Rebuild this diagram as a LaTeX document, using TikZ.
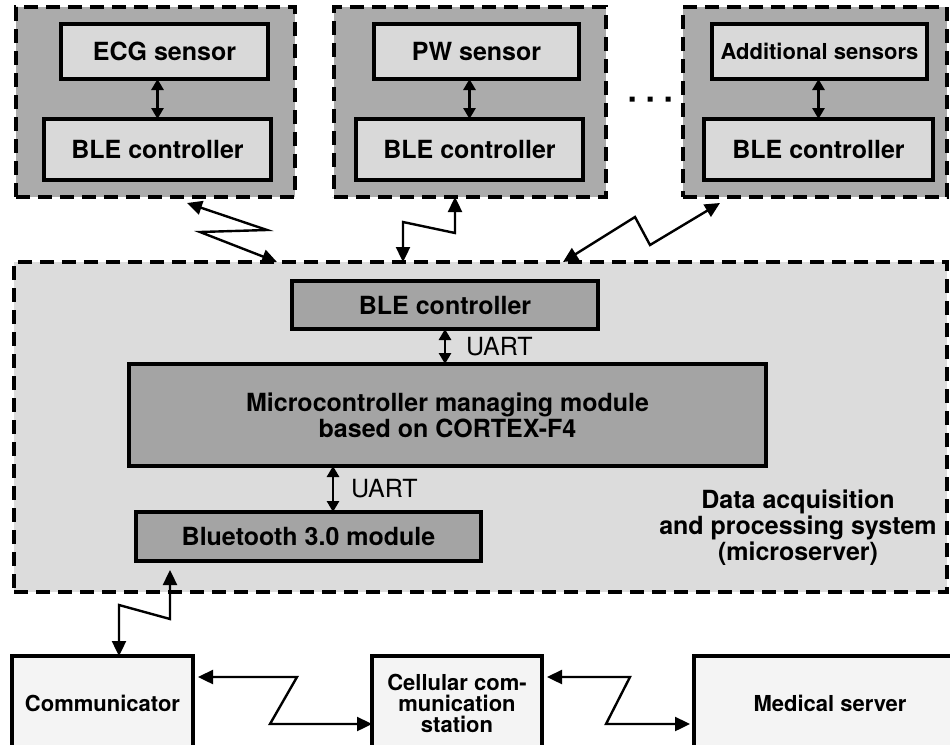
\documentclass[tikz,border=0pt]{standalone}
\usepackage{fontspec}
\setmainfont{TeX Gyre Heros}
\usetikzlibrary{arrows.meta, positioning}

\definecolor{grpgray}{HTML}{ABABAB}
\definecolor{boxlight}{HTML}{D9D9D9}
\definecolor{sysgray}{HTML}{DCDCDC}
\definecolor{unitgray}{HTML}{A4A4A4}
\definecolor{termgray}{HTML}{F4F4F4}

\begin{document}
\begin{tikzpicture}[x=1pt,y=-1pt,>={Triangle[length=15pt,width=14pt]},
	every node/.style={font=\fontsize{25}{26}\selectfont\bfseries, inner sep=0pt, outer sep=0pt},
	group/.style={draw, line width=3.5pt, dash pattern=on 14pt off 8pt, fill=grpgray},
	sensorbox/.style={draw, line width=3.5pt, fill=boxlight},
	unit/.style={draw, line width=3.5pt, fill=unitgray, align=center},
	terminal/.style={draw, line width=3.5pt, fill=termgray, align=center, font=\fontsize{22}{21}\selectfont\bfseries},
	wire/.style={<->, line width=2.8pt, >={Triangle[length=11pt,width=12pt]}},
	radio/.style={<->, line width=2.4pt}]

	\useasboundingbox (0,0) rectangle (950,744);

	% sensor groups
	\node (g1) [group, minimum width=279pt, minimum height=190pt] at (155.5,102) {};
	\node (ecg) [sensorbox, minimum width=207pt, minimum height=55pt] at (164.5,51.5) {ECG sensor};
	\node (ble1) [sensorbox, minimum width=227pt, minimum height=61pt] at (157.5,149.5) {BLE controller};

	\node (g2) [group, minimum width=272pt, minimum height=190pt] at (470,102) {};
	\node (pw) [sensorbox, minimum width=205pt, minimum height=55pt] at (476.5,51.5) {PW sensor};
	\node (ble2) [sensorbox, minimum width=227pt, minimum height=61pt] at (469.5,149.5) {BLE controller};

	\node (g3) [group, minimum width=264pt, minimum height=190pt] at (815,102) {};
	\node (add) [sensorbox, minimum width=215pt, minimum height=55pt, font=\fontsize{22}{24}\selectfont\bfseries] at (819.5,51.5) {Additional sensors};
	\node (ble3) [sensorbox, minimum width=229pt, minimum height=61pt] at (818.5,149.5) {BLE controller};

	\fill (629.5,96.5) rectangle ++(5,5) (647.5,96.5) rectangle ++(5,5) (665.5,96.5) rectangle ++(5,5);

	% microserver
	\node (sys) [group, fill=sysgray, minimum width=933pt, minimum height=330pt] at (480.5,427) {};
	\node (bleM) [unit, minimum width=306pt, minimum height=48pt] at (445,305) {BLE controller};
	\node (mcu) [unit, minimum width=637pt, minimum height=102pt] at (447.5,415) {Microcontroller managing module\\based on CORTEX-F4};
	\node (bt) [unit, minimum width=345pt, minimum height=49pt] at (308.5,536.5) {Bluetooth 3.0 module};
	\node (syslabel) [align=center] at (798,528) {Data acquisition\\and processing system\\(microserver)};

	% terminals
	\node (comm) [terminal, minimum width=181pt, minimum height=94pt] at (102.5,703) {Communicator};
	\node (cell) [terminal, minimum width=170pt, minimum height=94pt] at (457,703) {Cellular com-\\munication\\station};
	\node (med) [terminal, minimum width=261pt, minimum height=94pt] at (824.5,703) {\hspace*{11pt}Medical server};

	\draw[wire] (ecg.south -| ble1.north) -- (ble1.north);
	\draw[wire] (pw.south -| ble2.north) -- (ble2.north);
	\draw[wire] (add.south -| ble3.north) -- (ble3.north);

	\draw[wire] (bleM.south) -- (bleM.south |- mcu.north)
		node[midway, right=21pt, font=\fontsize{25}{26}\selectfont] {UART};
	\draw[wire] ([xshift=24.5pt]bt.north |- mcu.south) -- ([xshift=24.5pt]bt.north)
		node[midway, right=18pt, font=\fontsize{25}{26}\selectfont] {UART};

	% radio links
	\draw[radio] ([xshift=31.5pt,yshift=-6pt]g1.south) -- (267,230) -- (200,232) -- ([xshift=-203.5pt]sys.north);
	\draw[radio] ([xshift=-15pt]g2.south) -- (455,233) -- (403,222) -- ([xshift=-77.5pt]sys.north);
	\draw[radio] ([xshift=-95pt,yshift=-6pt]g3.south) -- (650,245) -- (635,217) -- ([xshift=82.5pt]sys.north);
	\draw[radio] ([xshift=-138.5pt,yshift=-9pt]bt.south) -- (170,619) -- (119,605) -- ([xshift=16.5pt]comm.north);
	\draw[radio] ([xshift=5pt,yshift=26pt]comm.east) -- (297,677) -- (270,724) -- ([yshift=-21pt]cell.west);
	\draw[radio] ([xshift=5pt,yshift=26pt]cell.east) -- (630,677) -- (606,724) -- ([xshift=-4pt,yshift=-21pt]med.west);

\end{tikzpicture}
\end{document}
